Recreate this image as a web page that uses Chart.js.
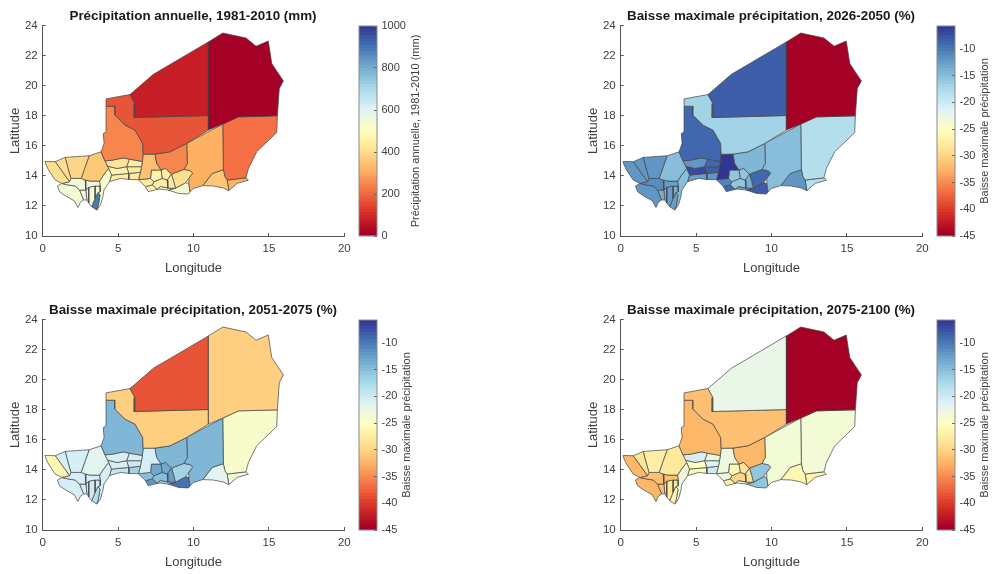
<!DOCTYPE html>
<html>
<head>
<meta charset="utf-8">
<script src="https://cdn.jsdelivr.net/npm/chart.js@4/dist/chart.umd.min.js"></script>
<style>
  html,body{margin:0;padding:0;background:#fff;}
  #page{position:relative;width:993px;height:574px;overflow:hidden;}
  canvas{position:absolute;}
</style>
</head>
<body>
<div id="page">
  <canvas id="map1" width="386" height="276" style="left:0;top:0"></canvas>
  <canvas id="bar1" width="90" height="226" style="left:357px;top:18px"></canvas>
  <canvas id="map2" width="386" height="276" style="left:578px;top:0"></canvas>
  <canvas id="bar2" width="56" height="226" style="left:935px;top:18px"></canvas>
  <canvas id="map3" width="386" height="276" style="left:0;top:294px"></canvas>
  <canvas id="bar3" width="90" height="226" style="left:357px;top:312px"></canvas>
  <canvas id="map4" width="386" height="276" style="left:578px;top:294px"></canvas>
  <canvas id="bar4" width="56" height="226" style="left:935px;top:312px"></canvas>
</div>
<script>
// district outlines as [longitude, latitude]
const districts = [
  [[10.99,22.94],[11.94,23.53],[13.48,23.2],[14.15,22.65],[14.96,23],[15.19,21.5],[15.56,20.94],[15.96,20.34],[15.69,19.83],[15.56,18.01],[12.98,17.94],[11.94,17.46],[10.99,17.06]],
  [[5.79,19.43],[7.34,20.78],[10.99,22.94],[10.99,18.03],[6.06,17.9],[6.12,18.83]],
  [[4.2,19.14],[5.79,19.43],[6.12,18.83],[6.06,17.9],[10.99,18.03],[10.99,17.06],[9.55,16.17],[8.44,15.61],[7.45,15.46],[6.66,15.45],[6.63,16.17],[6.12,17.06],[5.46,17.39],[4.8,18.05],[4.8,18.65],[4.2,18.65]],
  [[4.2,18.65],[4.8,18.65],[4.8,18.05],[5.46,17.39],[6.12,17.06],[6.63,16.17],[6.66,15.45],[6.61,14.97],[5.75,15.12],[5.35,15.21],[4.6,15.05],[4.13,15.01],[3.87,15.61],[4.07,16.17],[4.02,16.83],[4.2,16.94]],
  [[7.45,15.46],[8.44,15.61],[9.55,16.17],[9.59,14.84],[9.37,14.44],[8.54,14.13],[8.14,14.51],[7.85,14.4],[7.56,14.84]],
  [[9.55,16.17],[11.94,17.46],[11.98,14.42],[11.24,14.17],[10.62,13.36],[10,13.17],[9.77,12.95],[9.69,13.51],[9.69,13.84],[9.95,14.18],[9.8,14.35],[9.37,14.44],[9.59,14.84]],
  [[11.98,14.42],[12.08,13.95],[12.23,13.73],[12.34,13.02],[11.98,13.2],[11.32,13.33],[10.62,13.36],[11.24,14.17]],
  [[12.98,17.94],[15.56,18.01],[15.52,16.9],[14.19,15.61],[13.64,14.5],[13.48,13.88],[12.23,13.73],[12.08,13.95],[11.98,14.42],[11.94,17.46]],
  [[12.23,13.73],[13.48,13.88],[13.64,13.72],[12.9,13.51],[12.34,13.02]],
  [[0.15,14.97],[0.83,14.95],[1.78,13.62],[1.27,13.5],[0.83,13.73],[0.39,14.39],[0.23,14.73]],
  [[0.83,14.95],[1.49,15.24],[1.65,14.62],[1.87,13.84],[1.78,13.62]],
  [[1.49,15.24],[3.08,15.35],[2.82,14.62],[2.55,13.84],[1.87,13.84],[1.65,14.62]],
  [[3.08,15.35],[3.87,15.61],[4.13,15.01],[4.37,14.5],[4.03,14.06],[3.77,13.66],[3.15,13.66],[2.82,13.73],[2.55,13.84],[2.82,14.62]],
  [[1.87,13.84],[2.55,13.84],[2.82,13.73],[2.86,13.06],[2.44,13.06],[2.16,13.33],[1.71,13.4],[1.27,13.5],[1.78,13.62]],
  [[0.98,13.33],[1.27,13.5],[1.71,13.4],[2.16,13.33],[2.44,13.06],[2.71,12.4],[2.5,12.25],[2.34,11.9],[2.09,12.35],[1.49,12.69],[1.12,12.95]],
  [[2.44,13.06],[2.86,13.06],[2.93,12.4],[2.71,12.4]],
  [[2.82,13.73],[3.15,13.66],[3.77,13.66],[3.81,13.33],[3.48,13.33],[3.05,13.25],[2.86,13.06]],
  [[2.86,13.06],[3.05,13.25],[3.05,12.2],[2.93,12.4]],
  [[3.05,13.25],[3.48,13.33],[3.47,12.51],[3.25,11.95],[3.05,12.2]],
  [[3.48,13.33],[3.81,13.33],[3.81,12.95],[3.65,12.89],[3.47,12.51]],
  [[3.65,12.89],[3.8,12.73],[3.69,12.06],[3.58,11.73],[3.25,11.95],[3.47,12.51]],
  [[4.37,14.5],[4.56,14.06],[4.43,13.62],[4.06,13.06],[3.99,12.62],[3.83,12.06],[3.58,11.73],[3.69,12.06],[3.8,12.73],[3.65,12.89],[3.81,12.95],[3.81,13.33],[3.77,13.66],[4.03,14.06]],
  [[4.13,15.01],[4.6,15.05],[5.35,15.21],[5.75,15.12],[5.56,14.62],[4.94,14.5],[4.28,14.66]],
  [[5.75,15.12],[6.61,14.97],[6.55,14.62],[5.56,14.62]],
  [[4.28,14.66],[4.94,14.5],[5.56,14.62],[5.71,14.17],[4.56,14.06],[4.37,14.5]],
  [[5.56,14.62],[6.55,14.62],[6.48,14.25],[5.71,14.17]],
  [[4.56,14.06],[5.71,14.17],[5.71,13.77],[5.16,13.84],[4.43,13.62]],
  [[5.71,14.17],[6.48,14.25],[6.35,13.75],[5.71,13.77]],
  [[6.66,15.45],[7.45,15.46],[7.56,14.84],[7.85,14.4],[7.21,14.4],[7.15,13.84],[6.35,13.75],[6.48,14.25],[6.55,14.62],[6.61,14.97]],
  [[7.21,14.4],[7.85,14.4],[7.92,13.84],[7.37,13.62],[7.15,13.84]],
  [[7.85,14.4],[8.14,14.51],[8.54,14.13],[8.25,13.73],[7.92,13.84]],
  [[6.35,13.75],[7.15,13.84],[7.37,13.62],[7.26,13.4],[6.81,13.29]],
  [[6.81,13.29],[7.26,13.4],[7.59,13.11],[7,12.95]],
  [[7.37,13.62],[7.92,13.84],[8.25,13.73],[8.3,13.2],[7.8,13.3],[7.59,13.11],[7.26,13.4]],
  [[8.25,13.73],[8.54,14.13],[8.69,13.62],[8.8,13.18],[8.3,13.2]],
  [[7.59,13.11],[7.8,13.3],[8.3,13.2],[8.8,13.18],[8.33,13.06],[7.78,13.13]],
  [[8.54,14.13],[9.37,14.44],[9.8,14.35],[9.95,14.18],[9.69,13.84],[9.47,13.55],[8.8,13.18],[8.69,13.62]],
  [[8.8,13.18],[9.47,13.55],[9.69,13.51],[9.77,12.95],[9.66,12.8],[9,12.84],[8.33,13.06]]
];

// one value per district, same order as districts
const precipAnnuelle = [15,70,165,240,235,310,350,210,310,400,395,390,350,545,545,545,550,550,540,530,880,530,420,445,460,430,450,430,340,460,440,430,470,440,445,490,405,540];
const baisse2026 = [-45,-8.5,-16.8,-9,-14.5,-15,-12,-18,-18,-12,-12,-12,-15.5,-11.5,-12,-14,-13,-14.3,-13,-14,-12.5,-15.5,-12.3,-9,-7,-8.5,-12.5,-12,-5.8,-15.7,-15.7,-11,-9,-16,-14,-12.5,-9.2,-8.5];
const baisse2051 = [-30.5,-38.5,-30.5,-14.5,-14.5,-14.5,-22,-24.5,-24,-26,-21,-21,-21.8,-21,-21,-20.5,-21,-20,-20,-21,-18,-20.5,-21,-20.8,-21,-20.2,-19.4,-16.8,-21,-13.5,-13.5,-15.5,-12,-15.5,-13,-16.8,-16.9,-9.8];
const baisse2075 = [-45,-22.5,-31.8,-32.5,-32.5,-23.8,-26.5,-23.8,-27,-32.5,-29,-27.5,-28,-32,-32.5,-32,-32,-29.5,-28,-29,-26,-23,-20.5,-23.5,-25,-21.5,-26.5,-20.3,-23,-26.5,-29,-23.5,-27,-30,-29,-23.5,-15.8,-15.8];

const lonTicks = [0,5,10,15,20];
const latTicks = [10,12,14,16,18,20,22,24];
const precipTicks = [0,200,400,600,800,1000];
const baisseTicks = [-10,-15,-20,-25,-30,-35,-40,-45];

const palette = [[165,0,38],[215,48,39],[244,109,67],[253,174,97],[254,224,144],[255,255,191],[224,243,248],[171,217,233],[116,173,209],[69,117,180],[49,54,149]];
const LEVELS = 64;
const TEXT = '#404040';
const FONT = '"Liberation Sans", Arial, sans-serif';

function colourAt(t){
  // quantised like a matlab colormap
  const k = Math.min(LEVELS-1, Math.max(0, Math.floor(t*LEVELS)))/(LEVELS-1);
  const p = k*(palette.length-1), i = Math.min(palette.length-2, Math.floor(p)), f = p-i;
  const c = palette[i].map((v,n)=>Math.round(v+(palette[i+1][n]-v)*f));
  return 'rgb('+c.join(',')+')';
}

function fixedTicks(list){
  return scale => { scale.ticks = list.map(v=>({value:v})); };
}

function drawMap(id, title, values, vmin, vmax){
  const datasets = districts.map((shape,i)=>{
    const pts = shape.concat([shape[0]]).map(p=>({x:p[0],y:p[1]}));
    return {
      data: pts, showLine:true, fill:'shape', tension:0, pointRadius:0,
      backgroundColor: colourAt((values[i]-vmin)/(vmax-vmin)),
      borderColor:'#444444', borderWidth:0.7, borderJoinStyle:'round'
    };
  });
  new Chart(document.getElementById(id), {
    type:'scatter',
    data:{datasets},
    options:{
      responsive:false, animation:false,
      plugins:{
        legend:{display:false}, tooltip:{enabled:false},
        title:{display:true, text:title, color:'#1a1a1a', font:{family:FONT,size:13.4,weight:'bold',lineHeight:1.2}, padding:{top:8,bottom:1.9}}
      },
      scales:{
        x:{type:'linear', min:0, max:20, afterBuildTicks:fixedTicks(lonTicks), afterFit:s=>{s.height=40;},
          grid:{drawOnChartArea:false, tickLength:-3, color:'#555'}, border:{color:'#555'},
          ticks:{color:TEXT, font:{family:FONT,size:11.5}, padding:9, maxRotation:0, autoSkip:false},
          title:{display:true, text:'Longitude', color:TEXT, font:{family:FONT,size:13}, padding:0}},
        y:{type:'linear', min:10, max:24, afterBuildTicks:fixedTicks(latTicks), afterFit:s=>{s.width=42.7;},
          grid:{drawOnChartArea:false, tickLength:-3, color:'#555'}, border:{color:'#555'},
          ticks:{color:TEXT, font:{family:FONT,size:11.5}, padding:8, autoSkip:false},
          title:{display:true, text:'Latitude', color:TEXT, font:{family:FONT,size:13}, padding:{top:8,bottom:0}}},
        // empty axis so the title stays centred over the plot
        y2:{position:'right', afterFit:s=>{s.width=41.7;}, grid:{display:false}, border:{display:false}, ticks:{display:false}}
      }
    }
  });
}

// box and rotated label of the colorbar, chart.js only rotates right titles the other way
const barExtras = {
  id:'barExtras',
  afterDraw(chart, args, opts){
    const a = chart.chartArea, ctx = chart.ctx;
    ctx.save();
    ctx.strokeStyle = '#8a8a8a';
    ctx.lineWidth = 1;
    ctx.strokeRect(a.left, a.top, a.right-a.left, a.bottom-a.top);
    ctx.translate(a.right+opts.offset, (a.top+a.bottom)/2);
    ctx.rotate(-Math.PI/2);
    ctx.fillStyle = TEXT;
    ctx.font = '11px '+FONT;
    ctx.textAlign = 'center';
    ctx.textBaseline = 'middle';
    ctx.fillText(opts.text, 0, 0);
    ctx.restore();
  }
};

function drawBar(id, label, vmin, vmax, ticks, offset){
  const datasets = [];
  for(let i=0;i<LEVELS;i++){
    const lo = vmin+(vmax-vmin)*i/LEVELS, hi = vmin+(vmax-vmin)*(i+1.2)/LEVELS;
    datasets.push({data:[[lo,Math.min(hi,vmax)]], backgroundColor:colourAt((i+0.5)/LEVELS), borderWidth:0, grouped:false, barPercentage:1, categoryPercentage:1});
  }
  new Chart(document.getElementById(id), {
    type:'bar',
    data:{labels:[''],datasets},
    plugins:[barExtras],
    options:{
      responsive:false, animation:false,
      layout:{padding:{left:2,right:0,top:8,bottom:8}},
      plugins:{legend:{display:false}, tooltip:{enabled:false}, barExtras:{text:label, offset}},
      scales:{
        x:{display:false},
        y:{type:'linear', position:'right', min:vmin, max:vmax, afterBuildTicks:fixedTicks(ticks),
          afterFit:s=>{s.width=document.getElementById(id).width-20; s.paddingTop=0; s.paddingBottom=0;},
          grid:{drawOnChartArea:false, tickLength:-3, color:'#666', z:1}, border:{display:false},
          ticks:{color:TEXT, font:{family:FONT,size:11}, padding:7.5, autoSkip:false, callback:v=>String(v)}}
      }
    }
  });
}

const BAR_MIN = -45, BAR_MAX = -5.7;
drawMap('map1','Précipitation annuelle, 1981-2010 (mm)',precipAnnuelle,0,1000);
drawBar('bar1','Précipitation annuelle, 1981-2010 (mm)',0,1000,precipTicks,39);
drawMap('map2','Baisse maximale précipitation, 2026-2050 (%)',baisse2026,BAR_MIN,BAR_MAX);
drawBar('bar2','Baisse maximale précipitation',BAR_MIN,BAR_MAX,baisseTicks,30);
drawMap('map3','Baisse maximale précipitation, 2051-2075 (%)',baisse2051,BAR_MIN,BAR_MAX);
drawBar('bar3','Baisse maximale précipitation',BAR_MIN,BAR_MAX,baisseTicks,30);
drawMap('map4','Baisse maximale précipitation, 2075-2100 (%)',baisse2075,BAR_MIN,BAR_MAX);
drawBar('bar4','Baisse maximale précipitation',BAR_MIN,BAR_MAX,baisseTicks,30);
</script>
</body>
</html>
